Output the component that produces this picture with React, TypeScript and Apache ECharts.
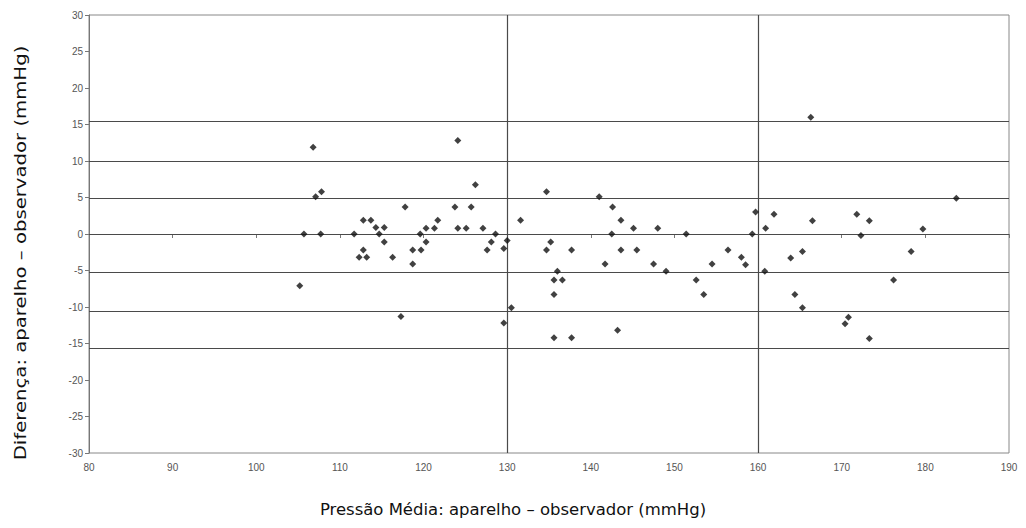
import React, { useEffect, useRef } from "react";
import * as echarts from "echarts";

// Mean pressure (x) and difference (y) for each subject
const meanPressure = [
  106.8, 107.1, 107.8, 105.7, 107.7, 105.2, 111.7, 112.8, 113.7, 114.3,
  115.3, 114.7, 115.3, 112.8, 112.3, 113.2, 116.3, 117.3, 117.8, 124.1,
  126.2, 123.75, 125.7, 121.7, 120.3, 121.3, 124.1, 125.1, 127.1, 119.6,
  120.3, 118.7, 119.7, 118.7, 128.6, 128.1, 127.6, 130.0, 129.6, 130.5,
  129.6, 131.6, 134.7, 135.2, 134.7, 137.7, 136.0, 135.6, 136.6, 135.6,
  135.6, 137.7, 141.0, 142.6, 143.6, 145.1, 142.5, 141.7, 143.6, 145.5,
  143.2, 148.0, 151.4, 147.5, 149.0, 152.6, 153.5, 154.5, 156.4, 158.0,
  158.5, 159.3, 159.7, 166.3, 161.9, 160.9, 166.5, 171.8, 173.3, 172.3,
  160.8, 163.9, 165.3, 164.4, 165.3, 170.8, 170.4, 173.3, 183.7, 179.7,
  178.3, 176.2,
];
const difference = [
  11.9, 5.1, 5.8, 0, 0, -7.1, 0, 1.9, 1.9, 0.9,
  0.9, 0, -1.1, -2.2, -3.2, -3.2, -3.2, -11.3, 3.7, 12.8,
  6.75, 3.7, 3.7, 1.9, 0.8, 0.8, 0.8, 0.8, 0.8, 0,
  -1.1, -2.2, -2.2, -4.1, 0, -1.1, -2.2, -0.9, -2.0, -10.1,
  -12.2, 1.9, 5.8, -1.1, -2.2, -2.2, -5.1, -6.3, -6.3, -8.3,
  -14.2, -14.2, 5.1, 3.7, 1.9, 0.8, 0, -4.1, -2.2, -2.2,
  -13.2, 0.8, 0, -4.1, -5.1, -6.3, -8.3, -4.1, -2.2, -3.2,
  -4.2, 0, 3.0, 16.0, 2.7, 0.8, 1.8, 2.7, 1.8, -0.2,
  -5.1, -3.3, -2.4, -8.3, -10.1, -11.4, -12.3, -14.3, 4.9, 0.7,
  -2.4, -6.3,
];

// Reference lines
const horizontalLines = [15.4, 9.9, 4.9, 0, -5.3, -10.6, -15.7];
const verticalLines = [130, 160];

// Axis settings
const xRange = [80, 190];
const xStep = 10;
const yRange = [-30, 30];
const yStep = 5;

const xTitle = "Pressão Média: aparelho – observador (mmHg)";
const yTitle = "Diferença: aparelho – observador (mmHg)";

export default function App() {
  const ref = useRef<HTMLDivElement>(null);
  useEffect(() => {
    const chart = echarts.init(ref.current!, null, { renderer: "svg" });
    const points = meanPressure.map((x, i) => [x, difference[i]]);
    const lineStyle = { color: "#4a4a4a", width: 1.2, type: "solid" as const };
    chart.setOption({
      animation: false,
      backgroundColor: "#fff",
      grid: {
        left: 89,
        right: 17,
        top: 15,
        bottom: 75,
        show: true,
        borderColor: "#888",
        borderWidth: 1,
      },
      xAxis: {
        type: "value",
        min: xRange[0],
        max: xRange[1],
        interval: xStep,
        axisLine: { show: true, lineStyle: { color: "#777" } },
        axisTick: { show: true, length: 4, lineStyle: { color: "#777" } },
        axisLabel: {
          color: "#555",
          fontSize: 10,
          fontFamily: "Liberation Sans",
          margin: 9,
        },
        splitLine: { show: false },
      },
      yAxis: {
        type: "value",
        min: yRange[0],
        max: yRange[1],
        interval: yStep,
        axisLine: { show: true, lineStyle: { color: "#777" } },
        axisTick: { show: true, length: 4, lineStyle: { color: "#777" } },
        axisLabel: {
          color: "#555",
          fontSize: 10,
          fontFamily: "Liberation Sans",
          margin: 6,
        },
        splitLine: { show: false },
      },
      graphic: [
        {
          type: "text",
          x: 513,
          y: 510,
          scaleX: 1.03,
          style: {
            text: xTitle,
            font: '16px "DejaVu Sans", sans-serif',
            fill: "#111",
            textAlign: "center",
            textVerticalAlign: "middle",
          },
        },
        {
          type: "text",
          x: 20,
          y: 253,
          rotation: Math.PI / 2,
          scaleX: 1.23,
          style: {
            text: yTitle,
            font: '16px "DejaVu Sans", sans-serif',
            fill: "#111",
            textAlign: "center",
            textVerticalAlign: "middle",
          },
        },
      ],
      series: [
        {
          type: "scatter",
          data: points,
          symbol: "diamond",
          symbolSize: 7,
          itemStyle: { color: "#111" },
          z: 5,
          markLine: {
            silent: true,
            symbol: "none",
            label: { show: false },
            lineStyle,
            data: [
              ...horizontalLines.map((v) => ({ yAxis: v })),
              ...verticalLines.map((v) => ({ xAxis: v })),
            ],
          },
        },
      ],
    });
    return () => chart.dispose();
  }, []);
  return (
    <div
      ref={ref}
      style={{ position: "absolute", left: 0, top: 0, width: 1026, height: 528 }}
    />
  );
}
